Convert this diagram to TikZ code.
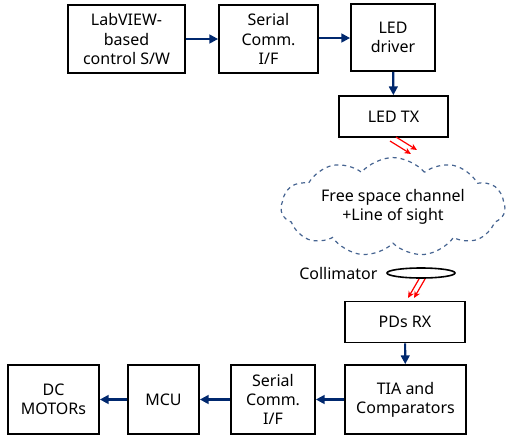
\documentclass[tikz,border=0pt]{standalone}
\usepackage{fontspec}
\setmainfont{Noto Sans}
\usetikzlibrary{arrows.meta,shapes.symbols,shapes.geometric,positioning}
\definecolor{linkblue}{RGB}{0,40,110}
\definecolor{cloudblue}{RGB}{70,100,145}
\tikzset{
  blk/.style={draw,line width=1.3pt,align=center,inner sep=0pt,font=\fontsize{12}{14.5}\selectfont},
  link/.style={draw=linkblue,line width=1.6pt,-{Triangle[length=6.5pt,width=6.5pt]}},
  ray/.style={draw=red,line width=0.9pt,-{Stealth[length=5pt,width=4.5pt]}}
}
\begin{document}
\begin{tikzpicture}[x=0.75pt,y=0.75pt,yscale=-1,xscale=1]
\useasboundingbox (0,0) rectangle (508,437);

% Transmitter side
\node[blk,minimum width=87.75pt,minimum height=51pt] (sw) at (126.5,39) {LabVIEW-\\based\\control S/W};
\node[blk,minimum width=74.25pt,minimum height=51pt] (sertx) at (268.5,39) {Serial\\Comm.\\I/F};
\node[blk,minimum width=63pt,minimum height=50.25pt] (drv) at (393,37.5) {LED\\driver};
\node[blk,minimum width=81.75pt,minimum height=30.75pt] (tx) at (393.5,116.5) {LED TX};

% Channel
\node[cloud,draw=cloudblue,dashed,line width=0.9pt,cloud puffs=11,cloud puff arc=100,aspect=2.7,
      minimum width=168pt,minimum height=63pt,align=center,inner sep=0pt,
      font=\fontsize{12}{14.5}\selectfont] (ch) at (393,207) {Free space channel\\+Line of sight};
\node[draw,ellipse,line width=1.2pt,minimum width=51pt,minimum height=7.5pt,inner sep=0pt] (lens) at (421,273) {};
\node[font=\fontsize{12}{14.5}\selectfont,left=3pt of lens] (lenslbl) {Collimator};

% Receiver side
\node[blk,minimum width=90pt,minimum height=30.75pt] (rx) at (405,322) {PDs RX};
\node[blk,minimum width=90.75pt,minimum height=51.75pt] (tia) at (405.5,399.5) {TIA and\\Comparators};
\node[blk,minimum width=63pt,minimum height=51.75pt] (serrx) at (273,399.5) {Serial\\Comm.\\I/F};
\node[blk,minimum width=53.25pt,minimum height=51.75pt] (mcu) at (163.5,399.5) {MCU};
\node[blk,minimum width=68.25pt,minimum height=51.75pt] (motor) at (53.5,399.5) {DC\\MOTORs};

% Links
\draw[link] (sw) -- (sertx);
\draw[link] (sertx.east |- 0,38) -- (drv.west |- 0,38);
\draw[link] (drv) -- (tx);
\draw[link] (rx) -- (tia);
\draw[link] (tia) -- (serrx);
\draw[link] (serrx) -- (mcu);
\draw[link] (mcu) -- (motor);

% Light rays
\draw[ray] (390,141) -- (411,154);
\draw[ray] (396,137) -- (417,150);
\draw[ray] (419,279) -- (408,298);
\draw[ray] (425,279) -- (414,298);

\end{tikzpicture}
\end{document}
